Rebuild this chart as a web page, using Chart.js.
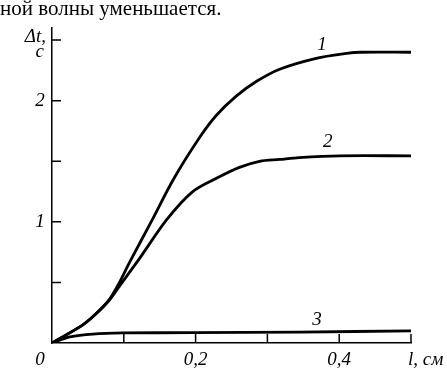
<!DOCTYPE html>
<html>
<head>
<meta charset="utf-8">
<script src="https://cdn.jsdelivr.net/npm/chart.js@4"></script>
<style>
  html, body { margin: 0; padding: 0; background: #fff; }
  #wrap { width: 447px; height: 368px; }
</style>
</head>
<body>
<div id="wrap"><canvas id="chart" width="447" height="368"></canvas></div>
<script>
// values: l in cm, delta t in s
const curve1 = [
  [0, 0], [0.043, 0.15], [0.062, 0.245], [0.08, 0.36], [0.094, 0.50], [0.108, 0.665],
  [0.139, 1.01], [0.169, 1.35], [0.206, 1.70], [0.229, 1.88], [0.257, 2.04],
  [0.285, 2.16], [0.317, 2.26], [0.368, 2.35], [0.41, 2.39], [0.43, 2.40], [0.5, 2.40]
];
const curve2 = [
  [0, 0], [0.043, 0.15], [0.062, 0.245], [0.08, 0.355], [0.094, 0.47], [0.121, 0.69],
  [0.16, 1.02], [0.196, 1.25], [0.229, 1.36], [0.261, 1.45], [0.289, 1.50],
  [0.317, 1.515], [0.344, 1.53], [0.40, 1.545], [0.5, 1.545]
];
const curve3 = [
  [0, 0], [0.025, 0.05], [0.057, 0.074], [0.099, 0.083], [0.196, 0.085],
  [0.344, 0.09], [0.5, 0.1]
];
const xTicks = [0.1, 0.2, 0.3, 0.4, 0.5];
const yTicks = [0.5, 1, 1.5, 2, 2.5];
const xLabels = [[0.2, '0,2'], [0.4, '0,4']];
const yLabels = [[1, '1'], [2, '2']];
const curveLabels = [['1', 0.376, 2.46], ['2', 0.384, 1.66], ['3', 0.369, 0.19]];

const toPoints = arr => arr.map(p => ({ x: p[0], y: p[1] }));

const serif = '"Liberation Serif", "DejaVu Serif", serif';

// ticks, labels and captions drawn in the style of the original figure
const decor = {
  id: 'decor',
  afterDraw(chart) {
    const ctx = chart.ctx;
    const xs = chart.scales.x, ys = chart.scales.y;
    const x0 = xs.getPixelForValue(0), y0 = ys.getPixelForValue(0);
    ctx.save();
    ctx.strokeStyle = '#000';
    ctx.lineWidth = 1.5;
    ctx.beginPath();
    xTicks.forEach(v => {
      const px = xs.getPixelForValue(v);
      ctx.moveTo(px, y0);
      ctx.lineTo(px, y0 - 9);
    });
    yTicks.forEach(v => {
      const py = ys.getPixelForValue(v);
      ctx.moveTo(x0, py);
      ctx.lineTo(x0 + 9, py);
    });
    ctx.stroke();

    ctx.fillStyle = '#000';
    ctx.font = 'italic 19px ' + serif;
    ctx.textBaseline = 'middle';
    ctx.textAlign = 'center';
    xLabels.forEach(([v, t]) => ctx.fillText(t, xs.getPixelForValue(v), y0 + 17));
    ctx.fillText('0', x0 - 12, y0 + 17);
    yLabels.forEach(([v, t]) => ctx.fillText(t, x0 - 12, ys.getPixelForValue(v)));
    ctx.textAlign = 'left';
    ctx.fillText('l, см', xs.getPixelForValue(0.5) - 3, y0 + 17);
    ctx.textAlign = 'right';
    ctx.textBaseline = 'alphabetic';
    ctx.fillText('\u0394t,', x0 - 6, 42);
    ctx.fillText('c', x0 - 8, 57);

    ctx.textAlign = 'center';
    ctx.textBaseline = 'middle';
    curveLabels.forEach(([t, x, y]) => ctx.fillText(t, xs.getPixelForValue(x), ys.getPixelForValue(y)));

    ctx.font = '21px ' + serif;
    ctx.textAlign = 'left';
    ctx.textBaseline = 'alphabetic';
    ctx.fillText('ной волны уменьшается.', 0, 15);
    ctx.restore();
  }
};

const lineStyle = {
  borderColor: '#000',
  borderWidth: 2.8,
  pointRadius: 0,
  fill: false,
  tension: 0.3
};

new Chart(document.getElementById('chart'), {
  type: 'line',
  data: {
    datasets: [
      Object.assign({ label: '1', data: toPoints(curve1) }, lineStyle),
      Object.assign({ label: '2', data: toPoints(curve2) }, lineStyle),
      Object.assign({ label: '3', data: toPoints(curve3) }, lineStyle)
    ]
  },
  options: {
    responsive: false,
    animation: false,
    layout: { padding: { left: 44, right: 36, top: 28, bottom: 17 } },
    plugins: { legend: { display: false }, tooltip: { enabled: false } },
    scales: {
      x: {
        type: 'linear', min: 0, max: 0.5,
        grid: { display: false },
        ticks: { display: false },
        border: { display: true, color: '#000', width: 1.5 }
      },
      y: {
        type: 'linear', min: 0, max: 2.6,
        grid: { display: false },
        ticks: { display: false },
        border: { display: true, color: '#000', width: 1.5 }
      }
    }
  },
  plugins: [decor]
});
</script>
</body>
</html>
